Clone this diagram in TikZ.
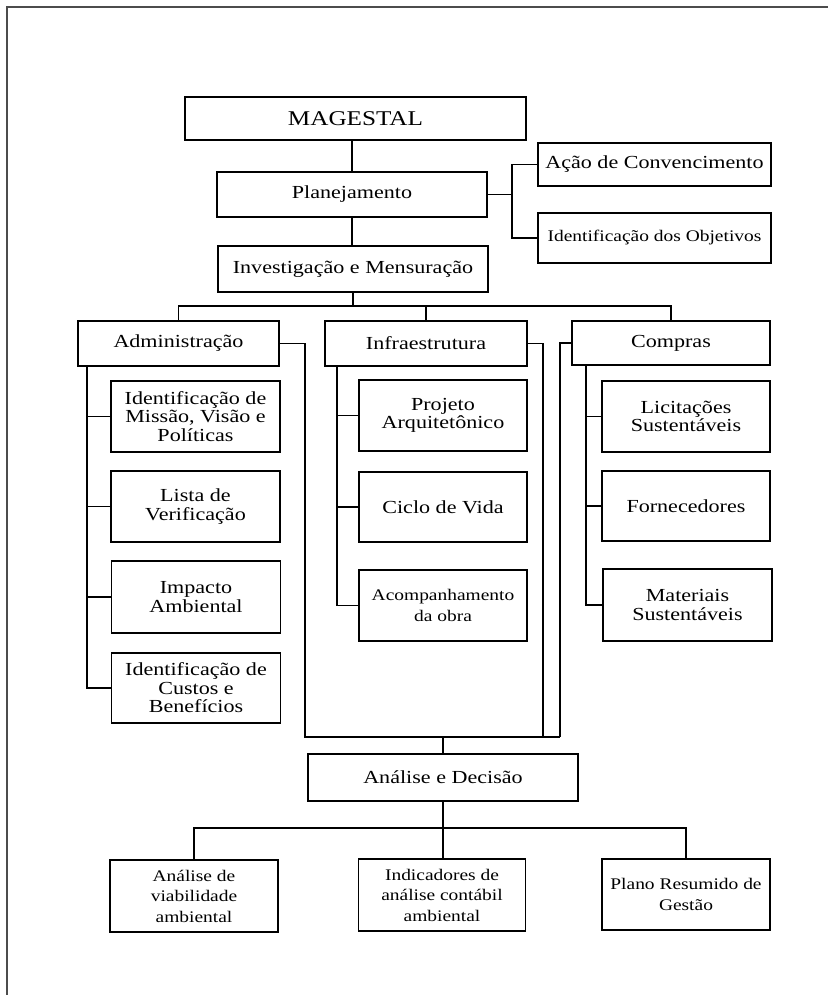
\documentclass[tikz,border=0pt]{standalone}
\usepackage{fontspec}
\setmainfont{Liberation Serif}[FakeStretch=1.2]
\begin{document}
\begin{tikzpicture}[x=1pt,y=-1pt,
  box/.style={draw=black,line width=1.5pt,fill=white,inner sep=0pt,align=center,
    font=\fontsize{18.4}{18.6}\selectfont},
  bigbox/.style={box,font=\fontsize{21}{23}\selectfont},
  smallbox/.style={box,font=\fontsize{16.2}{20.5}\selectfont},
  link/.style={line width=1.5pt,black},
  thick link/.style={line width=2.2pt,black}]
\useasboundingbox (0,0) rectangle (828,995);
% outer frame (top and left edges)
\draw[black!70,line width=1.5pt] (7,995) -- (7,7) -- (828,7);

% upper chain
\node[bigbox,minimum width=341pt,minimum height=43pt] (mag) at (355.5,118.5) {MAGESTAL};
\node[box,minimum width=270pt,minimum height=45pt] (plan) at (352,194.5) {Planejamento};
\node[box,minimum width=233pt,minimum height=43pt] (acao) at (654.5,164.5) {Ação de Convencimento};
\node[smallbox,minimum width=233pt,minimum height=50pt] (obj) at (654.5,238) {Identificação dos Objetivos};
\node[box,minimum width=270pt,minimum height=46pt] (inv) at (353,269) {Investigação e Mensuração};

% three areas
\node[box,minimum width=201pt,minimum height=45pt] (adm) at (178.5,343.5) {Administração};
\node[box,minimum width=202pt,minimum height=45pt] (infra) at (426,343.5) {Infraestrutura};
\node[box,minimum width=198pt,minimum height=44pt] (comp) at (671,343) {Compras};

% Administração items
\node[box,minimum width=169pt,minimum height=71pt] (a1) at (195.5,416.5) {Identificação de\\Missão, Visão e\\Políticas};
\node[box,minimum width=169pt,minimum height=71pt] (a2) at (195.5,506.5) {Lista de\\Verificação};
\node[box,minimum width=169pt,minimum height=72pt] (a3) at (196,597) {Impacto\\Ambiental};
\node[box,minimum width=169pt,minimum height=70pt] (a4) at (196,688) {Identificação de\\Custos e\\Benefícios};

% Infraestrutura items
\node[box,minimum width=168pt,minimum height=71pt] (i1) at (443,415.5) {Projeto\\Arquitetônico};
\node[box,minimum width=168pt,minimum height=70pt] (i2) at (443,507) {Ciclo de Vida};
\node[smallbox,minimum width=168pt,minimum height=71pt] (i3) at (443,605.5) {Acompanhamento\\da obra};

% Compras items
\node[box,minimum width=168pt,minimum height=71pt] (c1) at (686,416.5) {Licitações\\Sustentáveis};
\node[box,minimum width=168pt,minimum height=70pt] (c2) at (686,506) {Fornecedores};
\node[box,minimum width=169pt,minimum height=72pt] (c3) at (687.5,605) {Materiais\\Sustentáveis};

% analysis and outputs
\node[box,minimum width=270pt,minimum height=47pt] (ad) at (443,777.5) {Análise e Decisão};
\node[smallbox,minimum width=168pt,minimum height=72pt] (b1) at (194,896) {Análise de\\viabilidade\\ambiental};
\node[smallbox,minimum width=167pt,minimum height=72pt] (b2) at (442,895) {Indicadores de\\análise contábil\\ambiental};
\node[smallbox,minimum width=168pt,minimum height=71pt] (b3) at (686,894.5) {Plano Resumido de\\Gestão};

% junction points
\coordinate (pj) at (512,194.5);
\coordinate (bus) at (353,306);
\coordinate (astem) at (87,366);
\coordinate (istem) at (337,366);
\coordinate (cstem) at (586,365);
\coordinate (bl) at (305,737);
\coordinate (ib) at (543,737);
\coordinate (cb) at (560,737);
\coordinate (bb) at (443,828);

% connectors
\draw[link] (plan.north) -- (plan.north |- mag.south);
\draw[link] (plan.east) -- (pj);
\draw[link] (acao.west) -| (pj) |- (obj.west);
\draw[link] (plan.south) -- (plan.south |- inv.north);
\draw[link] (inv.south) -- (bus);
\draw[link] (adm.north) |- (bus) -| (comp.north);
\draw[link] (infra.north) -- (infra.north |- bus);

\draw[link] (astem) |- (a4.west);
\draw[link] (a1.west) -- (a1.west -| astem);
\draw[link] (a2.west) -- (a2.west -| astem);
\draw[link] (a3.west) -- (a3.west -| astem);

\draw[link] (istem) |- (i3.west);
\draw[link] (i1.west) -- (i1.west -| istem);
\draw[link] (i2.west) -- (i2.west -| istem);

\draw[link] (cstem) |- (c3.west);
\draw[link] (c1.west) -- (c1.west -| cstem);
\draw[link] (c2.west) -- (c2.west -| cstem);

\draw[link] (adm.east) -| (bl) -- (cb);
\draw[link] (infra.east) -| (ib);
\draw[link] (comp.west) -| (cb);
\draw[link] (ad.north) -- (ad.north |- bl);

\draw[thick link] (ad.south) -- (ad.south |- b2.north);
\draw[thick link] (b1.north) |- (bb) -| (b3.north);
\end{tikzpicture}
\end{document}
